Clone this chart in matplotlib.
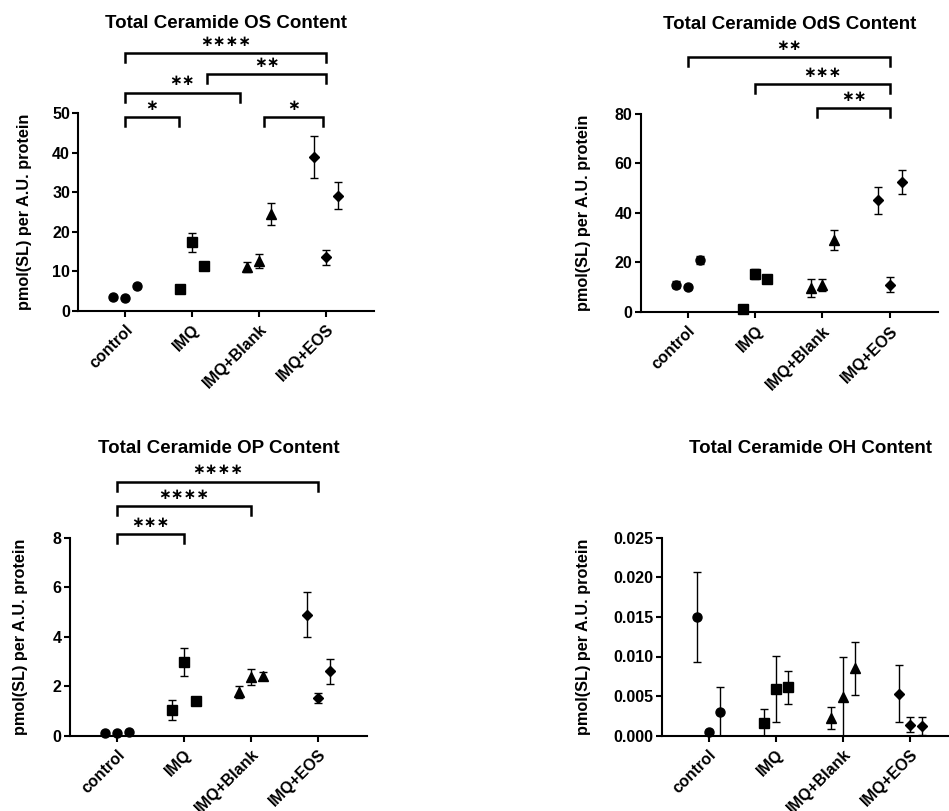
import matplotlib
matplotlib.use("Agg")
import matplotlib.pyplot as plt
import numpy as np

plt.rcParams["font.family"] = ["Liberation Sans", "DejaVu Sans"]
plt.rcParams["font.weight"] = "bold"

groups = ["control", "IMQ", "IMQ+Blank", "IMQ+EOS"]
group_markers = ["o", "s", "^", "D"]
sub_offsets = [-0.175, 0.0, 0.175]

# Ceramide OS
os_mean = [[3.4, 3.3, 6.3], [5.4, 17.3, 11.4], [11.1, 12.6, 24.5], [38.9, 13.5, 29.1]]
os_err = [[0.4, 0.4, 0.5], [0.6, 2.4, 0.6], [1.3, 1.7, 2.8], [5.4, 1.8, 3.4]]
os_sig = [(0, 3.0, 65.2, "****"), (1.22, 3.0, 60.0, "**"), (0, 1.71, 55.2, "**"),
          (0, 0.80, 49.0, "*"), (2.08, 2.96, 49.0, "*")]

# Ceramide OdS
ods_mean = [[11.0, 10.2, 21.1], [1.1, 15.3, 13.2], [9.7, 10.8, 29.2], [45.0, 11.0, 52.3]]
ods_err = [[1.5, 0.8, 1.6], [0.5, 2.0, 1.0], [3.5, 2.5, 4.0], [5.4, 3.0, 4.8]]
ods_sig = [(0, 3.0, 102.7, "**"), (1.0, 3.0, 91.8, "***"), (1.92, 3.0, 82.2, "**")]

# Ceramide OP
op_mean = [[0.09, 0.09, 0.13], [1.04, 2.98, 1.39], [1.78, 2.38, 2.41], [4.89, 1.52, 2.60]]
op_err = [[0.03, 0.03, 0.03], [0.40, 0.58, 0.10], [0.24, 0.32, 0.15], [0.92, 0.19, 0.50]]
op_sig = [(0, 3.0, 10.26, "****"), (0, 2.0, 9.28, "****"), (0, 1.0, 8.13, "***")]

# Ceramide OH
oh_mean = [[0.0150, 0.0005, 0.0030], [0.00164, 0.0059, 0.0061],
           [0.00227, 0.0049, 0.0085], [0.0053, 0.0014, 0.0012]]
oh_err = [[0.0057, 0.0002, 0.0031], [0.0017, 0.0042, 0.0021],
          [0.0014, 0.0051, 0.0033], [0.0036, 0.0009, 0.0011]]
oh_sig = []

panels = [
    ("Total Ceramide OS Content", os_mean, os_err, os_sig, 50, np.arange(0, 51, 10), "{:.0f}",
     [78.3, 113.3, 296.0, 197.4], -0.158),
    ("Total Ceramide OdS Content", ods_mean, ods_err, ods_sig, 80, np.arange(0, 81, 20), "{:.0f}",
     [640.7, 113.7, 297.6, 198.3], -0.166),
    ("Total Ceramide OP Content", op_mean, op_err, op_sig, 8, np.arange(0, 9, 2), "{:.0f}",
     [70.0, 537.7, 296.7, 198.0], -0.143),
    ("Total Ceramide OH Content", oh_mean, oh_err, oh_sig, 0.025, np.arange(0, 0.0251, 0.005), "{:.3f}",
     [661.7, 537.7, 297.0, 198.0], -0.237),
]

W, H = 949, 811
fig = plt.figure(figsize=(W / 100, H / 100), dpi=100)

for title, means, errs, sigs, ymax, yticks, fmt, box, ylab_x in panels:
    left, top, w, h = box
    ax = fig.add_axes([left / W, (H - top - h) / H, w / W, h / H])
    for gi in range(len(groups)):
        for si, off in enumerate(sub_offsets):
            x = gi + off
            ax.errorbar(x, means[gi][si], yerr=errs[gi][si], fmt="none", ecolor="black",
                        elinewidth=1.0, capsize=2.6, capthick=1.0, zorder=2)
            mk = group_markers[gi]
            ms = {"o": 6.5, "s": 6.5, "^": 7.2, "D": 5.5}[mk]
            ax.plot(x, means[gi][si], marker=mk, color="black", ms=ms,
                    linestyle="none", clip_on=False, zorder=3)

    ax.set_xlim(-0.70, 3.72)
    ax.set_ylim(0, ymax)
    ax.set_yticks(yticks)
    ax.set_yticklabels([fmt.format(v) for v in yticks])
    ax.set_xticks(range(len(groups)))
    ax.set_xticklabels(groups, rotation=45, ha="right", va="top",
                       rotation_mode="anchor")
    ax.tick_params(axis="both", direction="out", length=4, width=1.5, labelsize=11.5)
    ax.tick_params(axis="x", pad=4)
    ax.tick_params(axis="y", pad=2)
    for side in ("top", "right"):
        ax.spines[side].set_visible(False)
    for side in ("left", "bottom"):
        ax.spines[side].set_linewidth(1.5)

    ax.set_ylabel("pmol(SL) per A.U. protein", fontsize=11.7, fontweight="bold")
    ax.yaxis.set_label_coords(ylab_x, 0.5)

    ax.text(0.5, 1 + 85 / h, title, transform=ax.transAxes, ha="center",
            va="baseline", fontsize=13.5, fontweight="bold")

    drop = ymax * 9 / h
    for x1, x2, yl, lab in sigs:
        ax.plot([x1, x1, x2, x2], [yl - drop, yl, yl, yl - drop], color="black",
                lw=1.8, clip_on=False, solid_joinstyle="miter")
        ax.annotate(lab.replace("*", "\u2217"), xy=((x1 + x2) / 2, yl), xytext=(0, 8.5),
                    textcoords="offset points", ha="center", va="center",
                    fontsize=11, fontweight="bold", family="DejaVu Sans",
                    annotation_clip=False)

fig.savefig("out.png", dpi=100)
